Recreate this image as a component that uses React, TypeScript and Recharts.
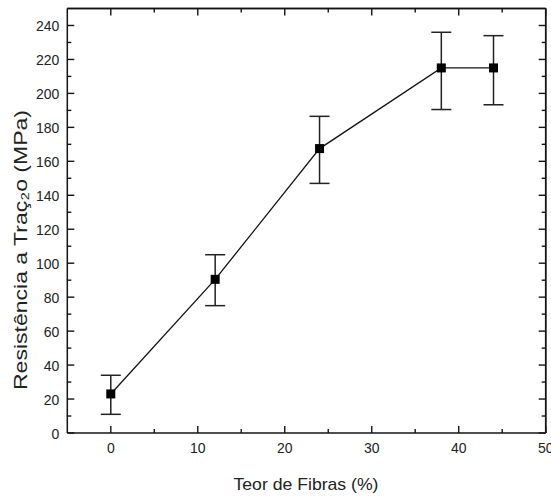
import React from "react";
import { ComposedChart, Line, XAxis, YAxis, ErrorBar, ReferenceLine } from "recharts";

const fiberContent = [0, 12, 24, 38, 44];
const tensileStrength = [23, 90.5, 167.5, 215, 215];
const barLow = [11, 75, 147, 190.5, 193.3];
const barHigh = [34, 105, 186.5, 236, 234];

const xTicks = [0, 5, 10, 15, 20, 25, 30, 35, 40, 45, 50];
const yTicks = [0, 10, 20, 30, 40, 50, 60, 70, 80, 90, 100, 110, 120, 130, 140, 150, 160, 170, 180, 190, 200, 210, 220, 230, 240];
const xMin = -5;
const xMax = 50;
const yMax = 250;

const xTitle = "Teor de Fibras (%)";
const yTitle = "Resistência a Traç₂o (MPa)";

const data = fiberContent.map((x, i) => ({
  x,
  y: tensileStrength[i],
  err: [tensileStrength[i] - barLow[i], barHigh[i] - tensileStrength[i]],
}));

const INK = "#141414";
const FONT = "'Liberation Sans', Arial, sans-serif";
const MAJOR = 7;
const MINOR = 4;

const BottomTick = (p: any) => {
  const { x, y, payload } = p;
  const v = payload.value;
  const major = v % 10 === 0;
  return (
    <g>
      <line x1={x} x2={x} y1={y} y2={y - (major ? MAJOR : MINOR)} stroke={INK} strokeWidth={1.4} />
      {major && (
        <text x={x} y={y + 20} textAnchor="middle" fontSize={14} fontFamily={FONT} fill="#222">
          {v}
        </text>
      )}
    </g>
  );
};

const TopTick = (p: any) => {
  const { x, y, payload } = p;
  const major = payload.value % 10 === 0;
  return <line x1={x} x2={x} y1={y} y2={y + (major ? MAJOR : MINOR)} stroke={INK} strokeWidth={1.4} />;
};

const LeftTick = (p: any) => {
  const { x, y, payload } = p;
  const v = payload.value;
  const major = v % 20 === 0;
  return (
    <g>
      <line x1={x} x2={x + (major ? MAJOR : MINOR)} y1={y} y2={y} stroke={INK} strokeWidth={1.4} />
      {major && (
        <text x={x - 8} y={y + 5.5} textAnchor="end" fontSize={14} fontFamily={FONT} fill="#222">
          {v}
        </text>
      )}
    </g>
  );
};

const RightTick = (p: any) => {
  const { x, y, payload } = p;
  const major = payload.value % 20 === 0;
  return <line x1={x} x2={x - (major ? MAJOR : MINOR)} y1={y} y2={y} stroke={INK} strokeWidth={1.4} />;
};

const SquareDot = (p: any) => {
  const { cx, cy, index } = p;
  if (cx == null || cy == null) return <g key={`d${index}`} />;
  return <rect key={`d${index}`} x={cx - 4.5} y={cy - 4.5} width={9} height={9} fill="#000" />;
};

const XTitle = () => (
  <text x={306} y={490} textAnchor="middle" fontSize={17} fontFamily={FONT} fill="#222" textLength={145} lengthAdjust="spacingAndGlyphs">
    {xTitle}
  </text>
);

const YTitle = () => (
  <text transform="rotate(-90)" x={-250} y={27} textAnchor="middle" fontSize={19} fontFamily={FONT} fill="#222" textLength={280} lengthAdjust="spacingAndGlyphs">
    {yTitle}
  </text>
);

export default function App() {
  return (
    <div style={{ position: "absolute", left: 0, top: 0, width: 551, height: 498 }}>
      <ComposedChart
        width={551}
        height={498}
        data={data}
        margin={{ top: 8.5, right: 4.3, bottom: 35, left: 27.3 }}
      >
        <XAxis
          xAxisId={0}
          dataKey="x"
          type="number"
          domain={[xMin, xMax]}
          ticks={xTicks}
          interval={0}
          allowDataOverflow
          height={30}
          tickSize={0}
          tickMargin={0}
          tickLine={false}
          axisLine={{ stroke: INK, strokeWidth: 1.5 }}
          tick={BottomTick}
          label={{ content: XTitle }}
        />
        <XAxis
          xAxisId="top"
          dataKey="x"
          orientation="top"
          mirror
          type="number"
          domain={[xMin, xMax]}
          ticks={xTicks}
          interval={0}
          allowDataOverflow
          height={10}
          tickSize={0}
          tickMargin={0}
          tickLine={false}
          axisLine={{ stroke: INK, strokeWidth: 1.5 }}
          tick={TopTick}
        />
        <YAxis
          yAxisId={0}
          type="number"
          domain={[0, yMax]}
          ticks={yTicks}
          interval={0}
          allowDataOverflow
          width={40}
          tickSize={0}
          tickMargin={0}
          tickLine={false}
          axisLine={{ stroke: INK, strokeWidth: 1.5 }}
          tick={LeftTick}
          label={{ content: YTitle }}
        />
        <YAxis
          yAxisId="right"
          orientation="right"
          type="number"
          domain={[0, yMax]}
          ticks={yTicks}
          interval={0}
          allowDataOverflow
          width={1}
          tickSize={0}
          tickMargin={0}
          tickLine={false}
          axisLine={{ stroke: INK, strokeWidth: 1.5 }}
          tick={RightTick}
        />
        <ReferenceLine xAxisId={0} yAxisId={0} y={yMax} stroke={INK} strokeWidth={1.5} />
        <ReferenceLine xAxisId={0} yAxisId={0} x={xMax} stroke={INK} strokeWidth={1.5} />
        <Line
          xAxisId={0}
          yAxisId={0}
          type="linear"
          dataKey="y"
          stroke={INK}
          strokeWidth={1.3}
          dot={SquareDot}
          activeDot={false}
          isAnimationActive={false}
        >
          <ErrorBar dataKey="err" width={10} stroke="#222" strokeWidth={1.5} direction="y" isAnimationActive={false} />
        </Line>
      </ComposedChart>
    </div>
  );
}
